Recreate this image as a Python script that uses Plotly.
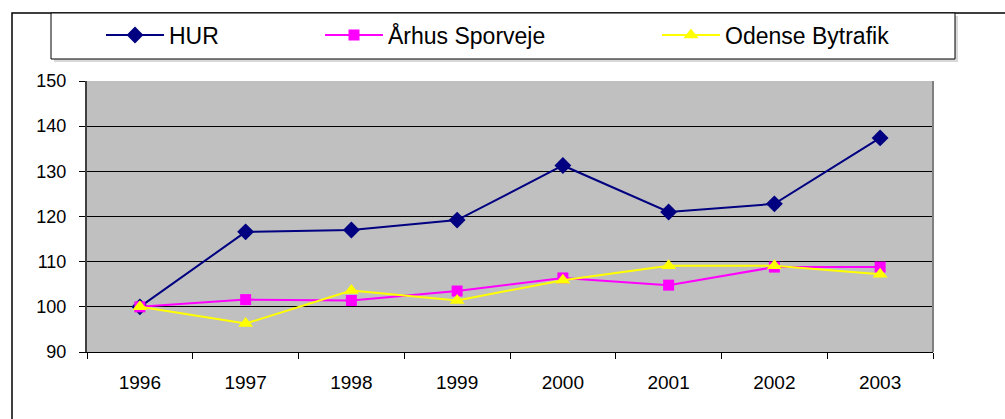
import plotly.graph_objects as go

years = ["1996", "1997", "1998", "1999", "2000", "2001", "2002", "2003"]
hur = [100, 116.6, 117.0, 119.2, 131.3, 121.0, 122.8, 137.4]
aarhus = [100, 101.6, 101.4, 103.5, 106.4, 104.8, 108.8, 108.8]
odense = [100, 96.3, 103.6, 101.4, 105.9, 109.1, 109.1, 107.2]

W, H = 1005, 419
L, R, T, B = 87, 933, 81, 352

def px(x):
    return (x - L) / (R - L)

def py(y):
    return (B - y) / (B - T)

font = "Liberation Sans, Arial, sans-serif"

fig = go.Figure()
fig.add_trace(go.Scatter(x=years, y=hur, name="HUR", mode="lines+markers",
                         line=dict(color="#000080", width=2),
                         marker=dict(symbol="diamond", size=13, color="#000080"),
                         legend="legend"))
fig.add_trace(go.Scatter(x=years, y=aarhus, name="Århus Sporveje", mode="lines+markers",
                         line=dict(color="#FF00FF", width=2),
                         marker=dict(symbol="square", size=11, color="#FF00FF"),
                         legend="legend2"))
fig.add_trace(go.Scatter(x=years, y=odense, name="Odense Bytrafik", mode="lines+markers",
                         line=dict(color="#FFFF00", width=2),
                         marker=dict(symbol="triangle-up", size=13, color="#FFFF00"),
                         legend="legend3"))

leg_common = dict(bgcolor="rgba(0,0,0,0)", borderwidth=0, font=dict(family=font, size=23, color="black"),
                  yanchor="middle", y=py(35), xanchor="left", itemwidth=58)

fig.update_layout(
    width=W, height=H,
    showlegend=True,
    margin=dict(l=L, r=W - R, t=T, b=H - B, autoexpand=False),
    paper_bgcolor="white",
    plot_bgcolor="#C0C0C0",
    font=dict(family=font, size=19, color="black"),
    legend=dict(x=px(101), **leg_common),
    legend2=dict(x=px(320), **leg_common),
    legend3=dict(x=px(657), **leg_common),
    xaxis=dict(type="category", range=[-0.5, 7.5], showgrid=False,
               ticks="outside", tickson="boundaries", ticklen=6, tickcolor="black",
               showline=True, linecolor="black", linewidth=1, mirror=False,
               ticklabelstandoff=13, tickfont=dict(size=19)),
    yaxis=dict(range=[90, 150], dtick=10, showgrid=True, gridcolor="black", gridwidth=1,
               ticks="outside", ticklen=6, tickcolor="black",
               showline=True, linecolor="#404040", linewidth=2,
               ticklabelstandoff=9, tickfont=dict(size=18), zeroline=False),
    shapes=[
        # outer chart frame
        dict(type="rect", xref="paper", yref="paper", x0=px(12), x1=px(1100), y0=py(13), y1=py(600),
             line=dict(color="black", width=1.5), fillcolor="rgba(0,0,0,0)", layer="below"),
        # right border of plot area
        dict(type="line", xref="paper", yref="paper", x0=1, x1=1, y0=0, y1=1,
             line=dict(color="#808080", width=2)),
        # legend shadow
        dict(type="rect", xref="paper", yref="paper", x0=px(54), x1=px(958), y0=py(16), y1=py(62),
             line=dict(width=0), fillcolor="#D9D9D9", layer="below"),
        # legend box
        dict(type="rect", xref="paper", yref="paper", x0=px(51), x1=px(955), y0=py(13), y1=py(59),
             line=dict(color="black", width=1), fillcolor="white", layer="below"),
    ],
)

fig.write_html("out.html", config={"displayModeBar": False},
               post_script="document.body.style.margin='0px';")
